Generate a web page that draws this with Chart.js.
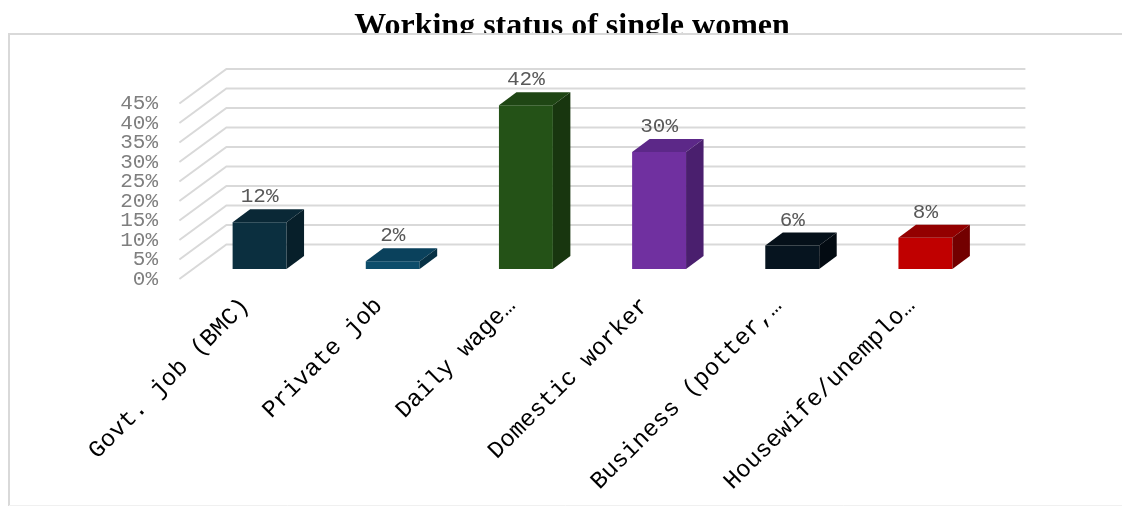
<!DOCTYPE html>
<html>
<head>
<meta charset="utf-8">
<script src="https://cdn.jsdelivr.net/npm/chart.js@4"></script>
<style>
  body { margin: 0; background: #fff; }
  #wrap { width: 1122px; height: 506px; }
</style>
</head>
<body>
<div id="wrap"><canvas id="chart" width="1122" height="506"></canvas></div>
<script>
// data
const categories = ['Govt. job (BMC)', 'Private job', 'Daily wage…', 'Domestic worker', 'Business (potter,…', 'Housewife/unemplo…']
const shares = [12, 2, 42, 30, 6, 8]
const yMax = 45
const yStep = 5

const frontColors = ['#0B2F3F', '#0D4D6B', '#245217', '#7030A0', '#06141F', '#C00000']
const topColors = ['#0A2836', '#0A415C', '#1F4614', '#5C2888', '#051019', '#930000']
const sideColors = ['#071F2A', '#073145', '#18360F', '#4A1F6E', '#030B12', '#730000']

// 3d offsets (pixels) relative to the bar front plane
const depth = {dx: 17.5, dy: -13}
const front = {dx: -13.6, dy: 10}
const back = {dx: 33.4, dy: -24.5}

const framePlugin = {
    id: 'frame',
    beforeDraw(chart){
        const ctx = chart.ctx
        ctx.save()
        ctx.fillStyle = '#fff'
        ctx.fillRect(0, 0, chart.width, chart.height)
        // title, cut by the plot frame like in the original
        ctx.save()
        ctx.beginPath()
        ctx.rect(0, 0, chart.width, 33)
        ctx.clip()
        ctx.fillStyle = '#000'
        ctx.font = 'bold 32px "Liberation Serif", "Times New Roman", serif'
        ctx.textAlign = 'center'
        ctx.textBaseline = 'alphabetic'
        ctx.fillText('Working status of single women', 572, 35)
        ctx.restore()
        ctx.strokeStyle = '#d9d9d9'
        ctx.lineWidth = 2
        ctx.beginPath()
        ctx.moveTo(1122, 34)
        ctx.lineTo(9, 34)
        ctx.lineTo(9, 506)
        ctx.stroke()
        ctx.strokeStyle = '#f0f0f0'
        ctx.lineWidth = 1
        ctx.beginPath()
        ctx.moveTo(9, 505.5)
        ctx.lineTo(1122, 505.5)
        ctx.stroke()
        ctx.restore()
    },
    beforeDatasetsDraw(chart){
        const ctx = chart.ctx
        const area = chart.chartArea
        const y = chart.scales.y
        ctx.save()
        ctx.strokeStyle = '#d9d9d9'
        ctx.lineWidth = 2
        y.ticks.forEach(t => {
            const py = y.getPixelForValue(t.value)
            ctx.beginPath()
            ctx.moveTo(area.left + front.dx, py + front.dy)
            ctx.lineTo(area.left + back.dx, py + back.dy)
            ctx.lineTo(area.right + back.dx, py + back.dy)
            ctx.stroke()
        })
        ctx.restore()
    },
    afterDatasetsDraw(chart){
        const ctx = chart.ctx
        const meta = chart.getDatasetMeta(0)
        ctx.save()
        meta.data.forEach((bar, i) => {
            const p = bar.getProps(['x', 'y', 'base', 'width'], true)
            const x1 = p.x - p.width / 2
            const x2 = p.x + p.width / 2
            // top face
            ctx.fillStyle = topColors[i]
            ctx.beginPath()
            ctx.moveTo(x1, p.y)
            ctx.lineTo(x1 + depth.dx, p.y + depth.dy)
            ctx.lineTo(x2 + depth.dx, p.y + depth.dy)
            ctx.lineTo(x2, p.y)
            ctx.closePath()
            ctx.fill()
            // side face
            ctx.fillStyle = sideColors[i]
            ctx.beginPath()
            ctx.moveTo(x2, p.y)
            ctx.lineTo(x2 + depth.dx, p.y + depth.dy)
            ctx.lineTo(x2 + depth.dx, p.base + depth.dy)
            ctx.lineTo(x2, p.base)
            ctx.closePath()
            ctx.fill()
            // value label
            ctx.fillStyle = '#595959'
            ctx.font = '21px "Liberation Mono", "DejaVu Sans Mono", monospace'
            ctx.textAlign = 'center'
            ctx.textBaseline = 'bottom'
            ctx.fillText(shares[i] + '%', p.x, p.y + depth.dy - 2)
        })
        ctx.restore()
    }
}

let ctx = document.getElementById('chart').getContext('2d')
let chart = new Chart(ctx, {
    type: 'bar',
    data: {
        labels: categories,
        datasets: [{
            data: shares,
            backgroundColor: frontColors,
            categoryPercentage: 1,
            barPercentage: 0.405
        }]
    },
    options: {
        responsive: false,
        animation: false,
        devicePixelRatio: 1,
        layout: {padding: {left: 0, top: 93.5, right: 130, bottom: 0}},
        plugins: {
            legend: {display: false},
            tooltip: {enabled: false}
        },
        scales: {
            x: {
                grid: {display: false, drawTicks: false},
                border: {display: false},
                ticks: {
                    autoSkip: false,
                    maxRotation: 45,
                    minRotation: 45,
                    padding: 23,
                    labelOffset: -14,
                    color: '#000',
                    font: {family: '"Liberation Mono", "DejaVu Sans Mono", monospace', size: 24}
                },
                afterFit: s => { s.height = 237 }
            },
            y: {
                min: 0,
                max: yMax,
                grid: {display: false, drawTicks: false},
                border: {display: false},
                ticks: {
                    autoSkip: false,
                    stepSize: yStep,
                    padding: 35,
                    labelOffset: 10,
                    color: '#7f7f7f',
                    font: {family: '"Liberation Mono", "DejaVu Sans Mono", monospace', size: 21},
                    callback: v => v + '%'
                },
                afterFit: s => { s.width = 193 }
            }
        }
    },
    plugins: [framePlugin]
})
</script>
</body>
</html>
